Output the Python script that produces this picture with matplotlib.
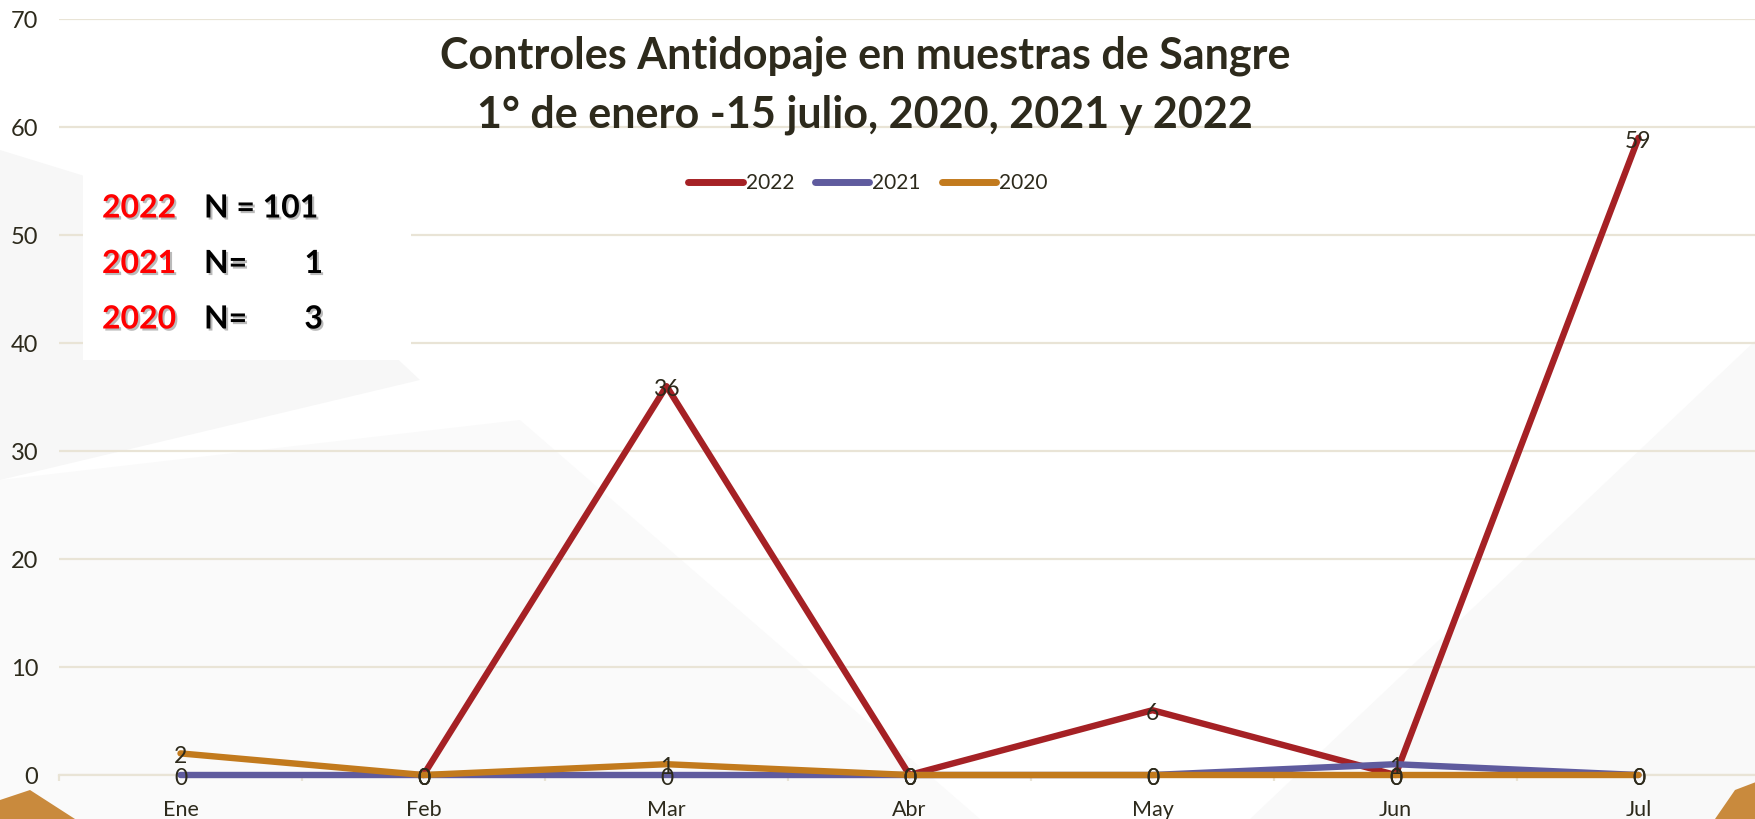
import matplotlib
matplotlib.use("Agg")
import matplotlib.pyplot as plt
import matplotlib.patheffects as pe
from matplotlib.patches import Polygon, Rectangle
import numpy as np

months = ["Ene", "Feb", "Mar", "Abr", "May", "Jun", "Jul"]
s2022 = [None, 0, 36, 0, 6, 0, 59]
s2021 = [0, 0, 0, 0, 0, 1, 0]
s2020 = [2, 0, 1, 0, 0, 0, 0]
series = [("2022", s2022, "#a52125"), ("2021", s2021, "#5f5b9e"), ("2020", s2020, "#c27a1d")]
yticks = [0, 10, 20, 30, 40, 50, 60, 70]
title_lines = ["Controles Antidopaje en muestras de Sangre", "1° de enero -15 julio, 2020, 2021 y 2022"]
totals = [("2022", "N = 101", ""), ("2021", "N=", "1"), ("2020", "N=", "3")]

plt.rcParams['font.family'] = ['Lato', 'DejaVu Sans']
TXT = "#2d2a1c"
GRID = "#e9e4d6"

W, H = 1756, 819
fig = plt.figure(figsize=(W / 100, H / 100), dpi=100)
fig.patch.set_facecolor("white")

# faint background swooshes
bg = fig.add_axes([0, 0, 1, 1], zorder=-10)
bg.set_xlim(0, W); bg.set_ylim(H, 0); bg.axis("off")
bg.add_patch(Polygon([[0, 150], [260, 230], [420, 380], [0, 480]], closed=True, color="#f7f7f7", lw=0))
bg.add_patch(Polygon([[0, 480], [520, 420], [980, 819], [0, 819]], closed=True, color="#fafafa", lw=0))
bg.add_patch(Polygon([[1250, 819], [1756, 340], [1756, 819]], closed=True, color="#f9f9f9", lw=0))
bg.add_patch(Polygon([[0, 800], [30, 790], [75, 819], [0, 819]], closed=True, color="#c98a3d", lw=0))
bg.add_patch(Polygon([[1715, 819], [1735, 790], [1756, 782], [1756, 819]], closed=True, color="#c98a3d", lw=0))

left_px, right_px, top_px, bot_px = 59, 1760, 19, 775
ax = fig.add_axes([left_px / W, 1 - bot_px / H, (right_px - left_px) / W, (bot_px - top_px) / H])
ax.set_facecolor("none")
x = np.arange(len(months))
ax.set_xlim(-0.5, len(months) - 0.5)
ax.set_ylim(0, 70)
ax.set_yticks(yticks)
ax.yaxis.grid(True, color=GRID, lw=1.6)
ax.set_axisbelow(True)
for sp in ["top", "right", "left"]:
    ax.spines[sp].set_visible(False)
ax.spines["bottom"].set_color(GRID)
ax.spines["bottom"].set_linewidth(1.6)
ax.tick_params(axis="y", length=0, pad=15, labelsize=17, labelcolor=TXT)
ax.set_xticks(x)
ax.set_xticklabels(months)
ax.tick_params(axis="x", which="major", length=0, pad=18, labelsize=15.5, labelcolor=TXT)
ax.set_xticks(np.arange(-0.5, len(months)), minor=True)
ax.tick_params(axis="x", which="minor", length=4.5, width=1.6, color=GRID)

for name, vals, col in series:
    xs = [xi for xi, v in zip(x, vals) if v is not None]
    ys = [v for v in vals if v is not None]
    ax.plot(xs, ys, color=col, lw=4.6, label=name, solid_capstyle="round", clip_on=False, zorder=3)
for name, vals, col in series:
    for xi, v in zip(x, vals):
        if v is not None:
            ax.text(xi, v - 0.3, str(v), ha="center", va="center", fontsize=16.5, color=TXT, zorder=5)

leg = ax.legend(loc="center", bbox_to_anchor=(868 / W, 1 - 183 / H), bbox_transform=fig.transFigure,
                ncol=3, frameon=False, fontsize=15, handlelength=2.6, handletextpad=0.15,
                columnspacing=1.0, labelcolor=TXT)
for h in leg.get_lines():
    h.set_linewidth(5)

fig.text(865 / W, 1 - 56 / H, title_lines[0], ha="center", va="center", fontsize=31,
         fontweight="bold", color=TXT)
fig.text(865 / W, 1 - 115 / H, title_lines[1], ha="center", va="center", fontsize=31,
         fontweight="bold", color=TXT)

# N box
bg2 = fig.add_axes([0, 0, 1, 1], zorder=5)
bg2.set_xlim(0, W); bg2.set_ylim(H, 0); bg2.axis("off")
bg2.add_patch(Rectangle((83, 175), 328, 185, color="white", lw=0))
shadow = [pe.withSimplePatchShadow(offset=(1.5, -1.5), shadow_rgbFace="#777777", alpha=0.5)]
for i, (yr, lab, num) in enumerate(totals):
    yc = 208 + i * 55.5
    bg2.text(102, yc, yr, ha="left", va="center", fontsize=23, fontweight="bold", color="#ff0000",
             path_effects=shadow)
    bg2.text(204, yc, lab, ha="left", va="center", fontsize=23, fontweight="bold", color="black",
             path_effects=shadow)
    if num:
        bg2.text(323, yc, num, ha="right", va="center", fontsize=23, fontweight="bold", color="black",
                 path_effects=shadow)

fig.savefig("out.png", dpi=100, facecolor="white")
